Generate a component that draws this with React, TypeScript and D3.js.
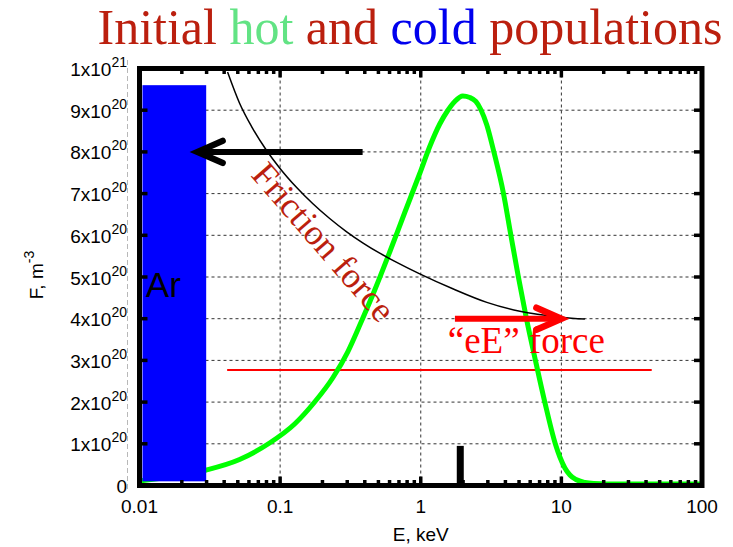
import { useEffect, useRef } from "react";
import * as d3 from "d3";

// hot population (green curve): E in keV, F in units of 1e20 m^-3
const hotE = [0.01, 0.01635, 0.02984, 0.05148, 0.08418, 0.1268, 0.176, 0.2364, 0.3022, 0.3741, 0.4707, 0.6016, 0.7695, 0.9837, 1.159, 1.365, 1.556, 1.746, 1.99, 2.233, 2.464, 2.673, 2.95, 3.308, 3.866, 4.371, 4.943, 5.636, 6.53, 7.63, 9.064, 9.757, 10.59, 11.5, 12.69, 14.7, 17.03, 26.09, 100];
const hotF = [0.108, 0.204, 0.372, 0.624, 1.019, 1.475, 2.002, 2.578, 3.201, 3.897, 4.688, 5.6, 6.547, 7.482, 8.129, 8.669, 8.993, 9.209, 9.341, 9.305, 9.209, 9.017, 8.645, 8.005, 7.022, 6.007, 5.007, 4.01, 3.01, 1.995, 0.995, 0.683, 0.42, 0.252, 0.144, 0.072, 0.048, 0.036, 0.036];

// friction force curve (thin black)
const fricE = [0.04229, 0.05148, 0.06269, 0.07882, 0.09918, 0.1311, 0.1703, 0.2251, 0.2974, 0.3866, 0.5106, 0.6748, 0.9837, 1.69, 2.95, 5.066, 10.08, 14.7];
const fricF = [9.916, 9.168, 8.607, 8.07, 7.616, 7.146, 6.763, 6.403, 6.084, 5.82, 5.571, 5.35, 5.074, 4.717, 4.391, 4.177, 4.036, 3.99];

// cold Ar population (blue block)
const arE = [0.0105, 0.0298];
const arF = [0.1, 9.6];

// small black spike
const spikeE = 1.91;
const spikeF = 0.95;

// red "eE" level line
const eELineE = [0.042, 43.9];
const eELineF = 2.77;

// arrows: [from E, to E], level F
const frictionArrowE = [0.386, 0.0259];
const frictionArrowF = 8;
const eEArrowE = [1.75, 10];
const eEArrowF = 4;

// ticks
const xTickValues = [0.01, 0.1, 1, 10, 100];
const xTickLabels = ["0.01", "0.1", "1", "10", "100"];
const yTickValues = [0, 1, 2, 3, 4, 5, 6, 7, 8, 9, 10];
const yTickMantissa = ["0", "1x10", "2x10", "3x10", "4x10", "5x10", "6x10", "7x10", "8x10", "9x10", "1x10"];
const yTickExponent = ["", "20", "20", "20", "20", "20", "20", "20", "20", "20", "21"];

const sans = "'Liberation Sans', Arial, sans-serif";
const serif = "'Liberation Serif', 'Times New Roman', serif";
const darkRed = "#bb1f0e";

const App = () => {
  const svgRef = useRef<SVGSVGElement>(null);

  useEffect(() => {
    const width = 733;
    const height = 547;
    const left = 139.5;
    const right = 702;
    const top = 68.5;
    const bottom = 485.5;

    d3.select(svgRef.current).selectAll("*").remove();

    const svg = d3
      .select(svgRef.current)
      .attr("width", width)
      .attr("height", height);

    svg.append("rect").attr("width", width).attr("height", height).attr("fill", "white");

    const x = d3.scaleLog().domain([0.01, 100]).range([left, right]);
    const y = d3.scaleLinear().domain([0, 10]).range([bottom, top]);

    // Grid lines
    const grid = svg.append("g").attr("stroke", "#333").attr("stroke-width", 1).attr("stroke-dasharray", "3,3");
    xTickValues.forEach((v) => {
      grid.append("line").attr("x1", x(v)).attr("x2", x(v)).attr("y1", top).attr("y2", bottom);
    });
    yTickValues.forEach((v) => {
      grid.append("line").attr("x1", left).attr("x2", right).attr("y1", y(v)).attr("y2", y(v));
    });

    // faint dashed artefact line next to the y labels
    svg
      .append("line")
      .attr("x1", 127.5)
      .attr("x2", 127.5)
      .attr("y1", 60)
      .attr("y2", 492)
      .attr("stroke", "#b8b8b8")
      .attr("stroke-width", 1)
      .attr("stroke-dasharray", "5,3");

    // Red eE level line
    svg
      .append("line")
      .attr("x1", x(eELineE[0]))
      .attr("x2", x(eELineE[1]))
      .attr("y1", y(eELineF))
      .attr("y2", y(eELineF))
      .attr("stroke", "#ff0000")
      .attr("stroke-width", 2);

    // Hot population curve
    const hotData = hotE.map((e, i) => ({ e, f: hotF[i] }));
    const line = d3
      .line<{ e: number; f: number }>()
      .x((d) => x(d.e))
      .y((d) => y(d.f))
      .curve(d3.curveMonotoneX);

    svg
      .append("path")
      .datum(hotData)
      .attr("fill", "none")
      .attr("stroke", "#00ff00")
      .attr("stroke-width", 5)
      .attr("d", line);

    // Ar block
    svg
      .append("rect")
      .attr("x", x(arE[0]))
      .attr("y", y(arF[1]))
      .attr("width", x(arE[1]) - x(arE[0]))
      .attr("height", y(arF[0]) - y(arF[1]))
      .attr("fill", "#0000ff");

    // Friction curve
    const fricData = fricE.map((e, i) => ({ e, f: fricF[i] }));
    svg
      .append("path")
      .datum(fricData)
      .attr("fill", "none")
      .attr("stroke", "black")
      .attr("stroke-width", 1.5)
      .attr("d", line);

    // Spike
    svg
      .append("line")
      .attr("x1", x(spikeE))
      .attr("x2", x(spikeE))
      .attr("y1", y(0))
      .attr("y2", y(spikeF))
      .attr("stroke", "black")
      .attr("stroke-width", 7);

    // Arrows
    const arrow = (es: number[], f: number, color: string) => {
      const x0 = x(es[0]);
      const x1 = x(es[1]);
      const yy = y(f);
      const dir = x1 > x0 ? 1 : -1;
      svg
        .append("line")
        .attr("x1", x0)
        .attr("x2", x1 - dir * 3)
        .attr("y1", yy)
        .attr("y2", yy)
        .attr("stroke", color)
        .attr("stroke-width", 6);
      svg
        .append("path")
        .attr("d", `M${x1 - dir * 25},${yy - 11} L${x1},${yy} L${x1 - dir * 25},${yy + 11}`)
        .attr("fill", "none")
        .attr("stroke", color)
        .attr("stroke-width", 6.5)
        .attr("stroke-linecap", "round")
        .attr("stroke-linejoin", "miter");
    };
    arrow(frictionArrowE, frictionArrowF, "black");
    arrow(eEArrowE, eEArrowF, "#ff0000");

    // Frame
    svg
      .append("rect")
      .attr("x", left)
      .attr("y", top)
      .attr("width", right - left)
      .attr("height", bottom - top)
      .attr("fill", "none")
      .attr("stroke", "black")
      .attr("stroke-width", 5);

    // Ticks
    const ticks = svg.append("g").attr("stroke", "black").attr("stroke-width", 3.5);
    yTickValues.forEach((v) => {
      ticks.append("line").attr("x1", left).attr("x2", left + 8).attr("y1", y(v)).attr("y2", y(v));
      ticks.append("line").attr("x1", right).attr("x2", right - 8).attr("y1", y(v)).attr("y2", y(v));
    });
    xTickValues.forEach((v) => {
      ticks.append("line").attr("x1", x(v)).attr("x2", x(v)).attr("y1", bottom).attr("y2", bottom - 9);
      ticks.append("line").attr("x1", x(v)).attr("x2", x(v)).attr("y1", top).attr("y2", top + 9);
    });
    xTickValues.slice(0, -1).forEach((d) => {
      d3.range(2, 10).forEach((k) => {
        const v = d * k;
        ticks.append("line").attr("x1", x(v)).attr("x2", x(v)).attr("y1", bottom).attr("y2", bottom - 5.5);
        ticks.append("line").attr("x1", x(v)).attr("x2", x(v)).attr("y1", top).attr("y2", top + 5.5);
      });
    });

    // Y tick labels
    yTickValues.forEach((v, i) => {
      const t = svg
        .append("text")
        .attr("x", 127)
        .attr("y", y(v) + 7.5)
        .attr("text-anchor", "end")
        .attr("font-family", sans)
        .attr("font-size", 19)
        .attr("fill", "black")
        .text(yTickMantissa[i]);
      if (yTickExponent[i]) {
        t.append("tspan").attr("dy", -9).attr("font-size", 14).text(yTickExponent[i]);
      }
    });

    // X tick labels
    xTickValues.forEach((v, i) => {
      svg
        .append("text")
        .attr("x", x(v))
        .attr("y", 513)
        .attr("text-anchor", "middle")
        .attr("font-family", sans)
        .attr("font-size", 19)
        .attr("fill", "black")
        .text(xTickLabels[i]);
    });

    // Axis labels
    svg
      .append("text")
      .attr("x", x(1))
      .attr("y", 541)
      .attr("text-anchor", "middle")
      .attr("font-family", sans)
      .attr("font-size", 19)
      .text("E, keV");

    const yl = svg
      .append("text")
      .attr("transform", "translate(43,275) rotate(-90)")
      .attr("text-anchor", "middle")
      .attr("font-family", sans)
      .attr("font-size", 19)
      .text("F, m");
    yl.append("tspan").attr("dy", -9).attr("font-size", 14).text("-3");

    // Annotations
    svg
      .append("text")
      .attr("x", x(0.0111))
      .attr("y", y(4.52))
      .attr("font-family", sans)
      .attr("font-size", 35)
      .attr("fill", "black")
      .text("Ar");

    svg
      .append("text")
      .attr("transform", `translate(${x(0.176)},${y(5.65)}) rotate(49)`)
      .attr("text-anchor", "middle")
      .attr("font-family", serif)
      .attr("font-size", 36)
      .attr("fill", darkRed)
      .text("Friction force");

    svg
      .append("text")
      .attr("x", x(1.556))
      .attr("y", y(3.18))
      .attr("font-family", serif)
      .attr("font-size", 37)
      .attr("fill", "#ff0000")
      .text("\u201ceE\u201d force");

    // Title
    const title = svg
      .append("text")
      .attr("x", 410)
      .attr("y", 44)
      .attr("text-anchor", "middle")
      .attr("font-family", serif)
      .attr("font-size", 50);
    const titleParts = [
      { s: "Initial ", c: darkRed },
      { s: "hot ", c: "#62e384" },
      { s: "and ", c: darkRed },
      { s: "cold ", c: "#0000ee" },
      { s: "populations", c: darkRed },
    ];
    titleParts.forEach((p) => {
      title.append("tspan").attr("fill", p.c).text(p.s);
    });
  }, []);

  return <svg ref={svgRef} style={{ position: "absolute", left: 0, top: 0 }}></svg>;
};

export default App;
